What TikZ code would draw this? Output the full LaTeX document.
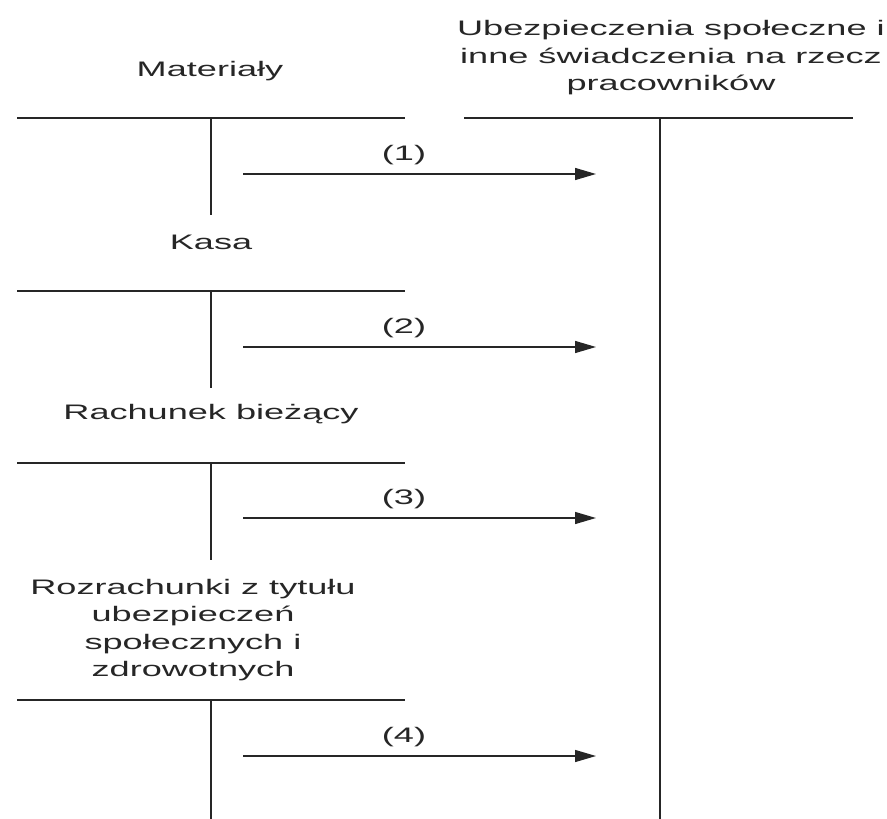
\documentclass[tikz,border=0pt]{standalone}
\usepackage{fontspec}
\setmainfont[FakeStretch=1.72]{Liberation Sans}
\usetikzlibrary{arrows.meta}
\tikzset{
  acct/.style={line width=1.6pt, black!85},
  flow/.style={line width=1.4pt, black!85, -{Triangle[length=21pt,width=12pt]}},
  lab/.style={inner sep=0pt, align=center, font=\fontsize{21}{27.5}\selectfont, text=black!85},
  num/.style={inner sep=0pt, font=\fontsize{21}{24}\selectfont, text=black!85}
}
\begin{document}
\begin{tikzpicture}[x=1pt,y=-1pt]
\useasboundingbox (0,0) rectangle (887,819);
% right account
\node[lab] (ubez) at (671,58) {Ubezpieczenia społeczne i\\inne świadczenia na rzecz\\pracowników};
\coordinate (rL) at (464,118);
\coordinate (rR) at (853,118);
\coordinate (rT) at (660,118);
\coordinate (rB) at (660,819);
\draw[acct] (rL) -- (rR);
\draw[acct] (rT) -- (rB);
% account 1
\node[lab] (mat) at (210,71) {Materiały};
\coordinate (aL1) at (17,118); \coordinate (aR1) at (405,118);
\coordinate (aT1) at (211,118); \coordinate (aB1) at (211,215);
\draw[acct] (aL1) -- (aR1);
\draw[acct] (aT1) -- (aB1);
% account 2
\node[lab] (kasa) at (211,242) {Kasa};
\coordinate (aL2) at (17,291); \coordinate (aR2) at (405,291);
\coordinate (aT2) at (211,291); \coordinate (aB2) at (211,388);
\draw[acct] (aL2) -- (aR2);
\draw[acct] (aT2) -- (aB2);
% account 3
\node[lab] (rach) at (211,414) {Rachunek bieżący};
\coordinate (aL3) at (17,463); \coordinate (aR3) at (405,463);
\coordinate (aT3) at (211,463); \coordinate (aB3) at (211,560);
\draw[acct] (aL3) -- (aR3);
\draw[acct] (aT3) -- (aB3);
% account 4
\node[lab] (rozr) at (193,630) {Rozrachunki z tytułu\\ubezpieczeń\\społecznych i\\zdrowotnych};
\coordinate (aL4) at (17,700); \coordinate (aR4) at (405,700);
\coordinate (aT4) at (211,700); \coordinate (aB4) at (211,819);
\draw[acct] (aL4) -- (aR4);
\draw[acct] (aT4) -- (aB4);
% flows
\foreach \i/\y in {1/174,2/347,3/518,4/756}{
  \coordinate (s\i) at (243,\y);
  \coordinate (e\i) at (596,\y);
  \draw[flow] (s\i) -- (e\i);
  \node[num] (n\i) at (404,\y-19) {(\i)};
}
\end{tikzpicture}
\end{document}
